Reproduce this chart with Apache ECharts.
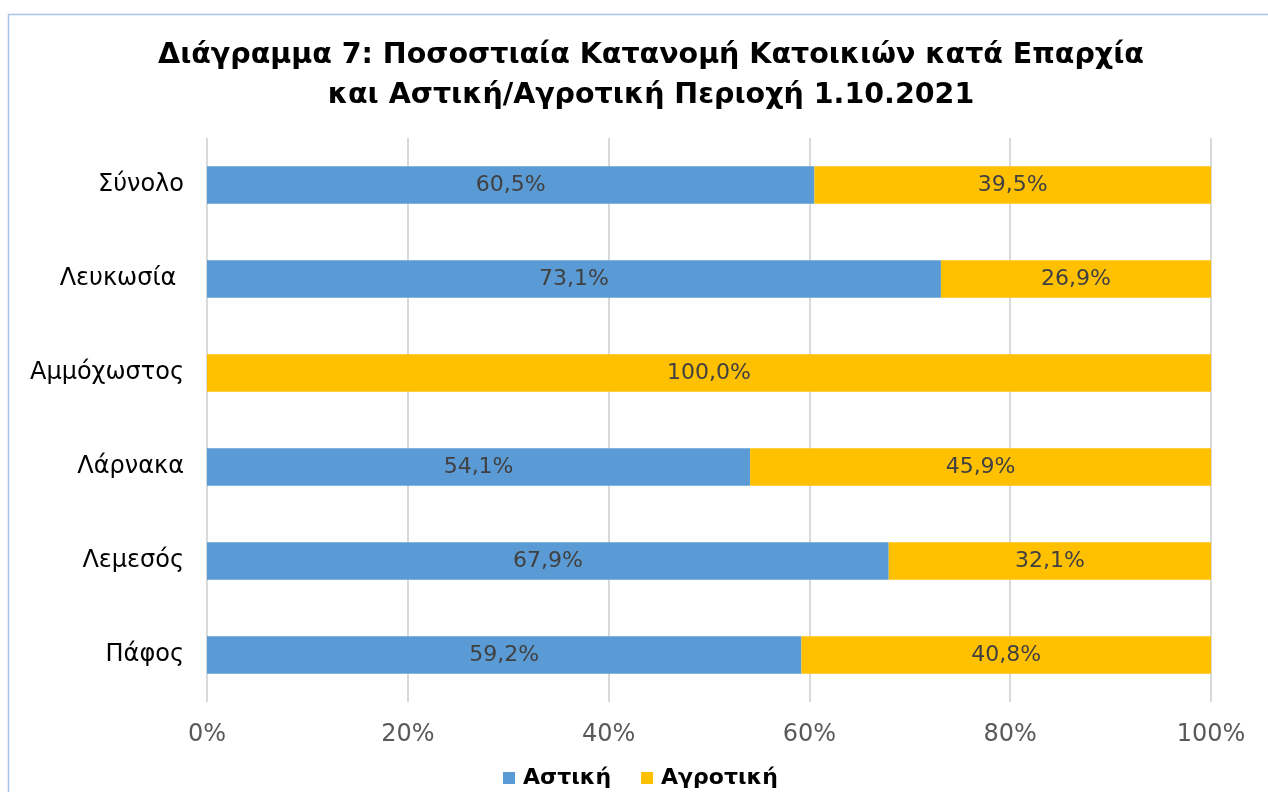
<!DOCTYPE html>
<html>
<head>
<meta charset="utf-8">
<script src="https://cdn.jsdelivr.net/npm/echarts@6/dist/echarts.min.js"></script>
<style>
  html, body { margin: 0; padding: 0; background: #fff; }
  #chart { width: 1268px; height: 792px; }
</style>
</head>
<body>
<div id="chart"></div>
<script>
// Επαρχίες (top to bottom)
var categories = ['Σύνολο', 'Λευκωσία ', 'Αμμόχωστος', 'Λάρνακα', 'Λεμεσός', 'Πάφος'];
// Αστική (%)
var urban = [60.5, 73.1, 0, 54.1, 67.9, 59.2];
// Αγροτική (%)
var rural = [39.5, 26.9, 100.0, 45.9, 32.1, 40.8];
var xTicks = [0, 20, 40, 60, 80, 100];

var chart = echarts.init(document.getElementById('chart'));

function pct(p) {
    if (!p.value) return '';
    return p.value.toFixed(1).replace('.', ',') + '%';
}

var labelOption = {
    show: true,
    position: 'inside',
    color: '#404040',
    fontSize: 22,
    fontFamily: 'DejaVu Sans',
    formatter: pct
};

var option = {
    animation: false,
    backgroundColor: '#fff',
    textStyle: { fontFamily: 'DejaVu Sans' },
    graphic: [{
        type: 'rect',
        shape: { x: 8.5, y: 14.5, width: 1300, height: 900 },
        style: { fill: 'none', stroke: '#A6C3EA', lineWidth: 1.5 }
    }],
    title: {
        text: 'Διάγραμμα 7: Ποσοστιαία Κατανομή Κατοικιών κατά Επαρχία\nκαι Αστική/Αγροτική Περιοχή 1.10.2021',
        left: 646,
        textAlign: 'center',
        top: 31,
        textStyle: {
            fontFamily: 'DejaVu Sans',
            fontWeight: 'bold',
            fontSize: 28.5,
            color: '#000',
            lineHeight: 40
        }
    },
    legend: {
        data: ['Αστική', 'Αγροτική'],
        left: 498,
        top: 762,
        icon: 'rect',
        itemWidth: 12,
        itemHeight: 12,
        itemGap: 30,
        textStyle: {
            fontFamily: 'DejaVu Sans',
            fontWeight: 'bold',
            fontSize: 22,
            color: '#000',
            padding: [0, 0, 0, 3]
        }
    },
    grid: { left: 207, right: 57, top: 138, bottom: 90, containLabel: false },
    xAxis: {
        type: 'value',
        min: 0,
        max: 100,
        interval: 20,
        axisLine: { show: false },
        axisTick: { show: false },
        splitLine: { lineStyle: { color: '#D9D9D9', width: 2 } },
        axisLabel: {
            margin: 21,
            color: '#595959',
            fontSize: 24,
            fontFamily: 'DejaVu Sans',
            customValues: xTicks,
            formatter: '{value}%'
        }
    },
    yAxis: {
        type: 'category',
        inverse: true,
        data: categories,
        axisLine: { show: false },
        axisTick: { show: false },
        axisLabel: { margin: 23, color: '#000', fontSize: 24, fontFamily: 'DejaVu Sans' }
    },
    series: [
        {
            name: 'Αστική',
            type: 'bar',
            stack: 'total',
            barWidth: '40%',
            itemStyle: { color: '#5B9BD5' },
            label: labelOption,
            data: urban
        },
        {
            name: 'Αγροτική',
            type: 'bar',
            stack: 'total',
            itemStyle: { color: '#FFC000' },
            label: labelOption,
            data: rural
        }
    ]
};
chart.setOption(option);
</script>
</body>
</html>
